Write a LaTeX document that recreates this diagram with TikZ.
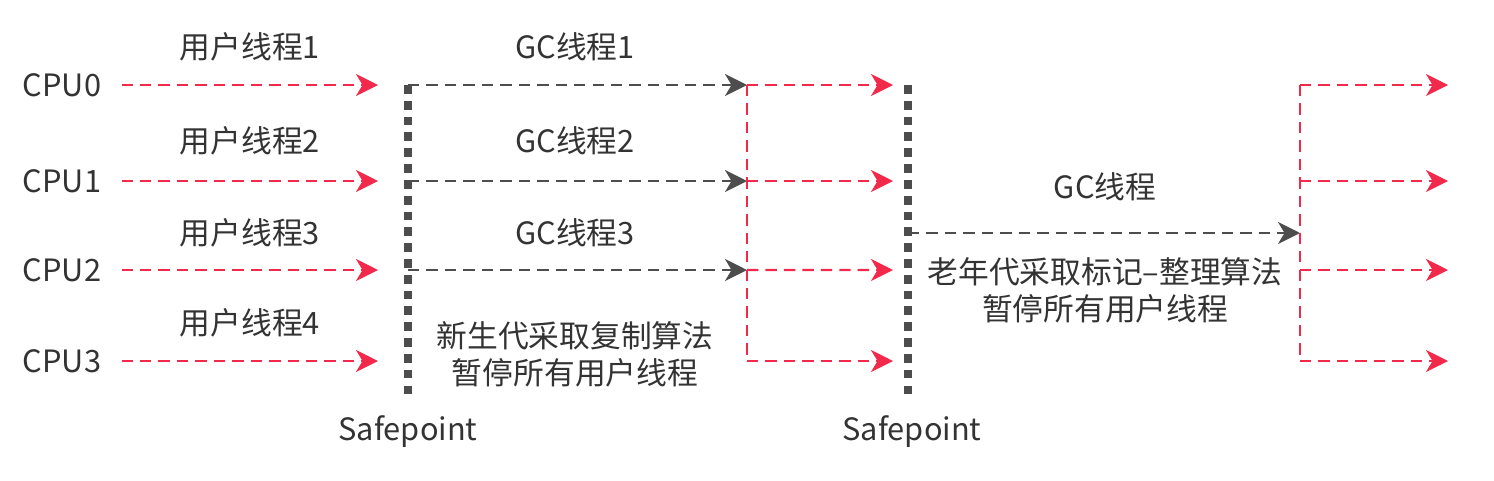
\documentclass[tikz,border=0pt]{standalone}
\usepackage{fontspec}
\setmainfont{Noto Sans CJK SC}
\usepackage{tikz}
\usetikzlibrary{arrows.meta,calc}
\definecolor{lred}{HTML}{F2294A}
\definecolor{lgrey}{HTML}{4D4D4D}
\definecolor{ltext}{HTML}{333333}
\tikzstyle{lbl} = [text=ltext, font=\fontsize{17.5}{21}\selectfont, inner sep=0pt, align=center]
\tikzstyle{redarrow} = [draw=lred, line width=1.2pt, dash pattern=on 6.5pt off 4pt, -{Stealth[length=0.44cm, width=0.44cm, inset=0.13cm]}]
\tikzstyle{redline} = [draw=lred, line width=1.2pt, dash pattern=on 6.5pt off 4pt]
\tikzstyle{greyarrow} = [draw=lgrey, line width=1.2pt, dash pattern=on 6.5pt off 4pt, -{Stealth[length=0.44cm, width=0.44cm, inset=0.13cm]}]
\tikzstyle{safeline} = [draw=lgrey, line width=4pt, dash pattern=on 5pt off 4pt]

\begin{document}
\begin{tikzpicture}
\useasboundingbox (0,0) rectangle (29.88,-9.6);

% CPU rows
\node (cpu0) [lbl] at (1.24,-1.7) {CPU0};
\node (cpu1) [lbl] at (1.24,-3.62) {CPU1};
\node (cpu2) [lbl] at (1.24,-5.4) {CPU2};
\node (cpu3) [lbl] at (1.24,-7.22) {CPU3};
\node (ut1) [lbl] at (5.0,-0.94) {用户线程1};
\node (ut2) [lbl] at (5.0,-2.82) {用户线程2};
\node (ut3) [lbl] at (5.0,-4.66) {用户线程3};
\node (ut4) [lbl] at (5.0,-6.46) {用户线程4};

% first safepoint
\coordinate (sp1top) at (8.16,-1.7);
\coordinate (sp1bot) at (8.16,-7.9);
\coordinate (sp1r1) at (8.16,-3.62);
\coordinate (sp1r2) at (8.16,-5.4);
\node (sp1lbl) [lbl] at (8.16,-8.64) {Safepoint};
\draw [redarrow] ([xshift=0.4cm]cpu0.east) -- ($(sp1top)+(-0.6,0)$);
\draw [redarrow] ([xshift=0.4cm]cpu1.east) -- ($(sp1r1)+(-0.6,0)$);
\draw [redarrow] ([xshift=0.4cm]cpu2.east) -- ($(sp1r2)+(-0.6,0)$);
\draw [redarrow] ([xshift=0.4cm]cpu3.east) -- ($(sp1bot)+(-0.6,0.68)$);

% young gen GC
\coordinate (ya0) at (14.94,-1.7);
\coordinate (ya1) at (14.94,-3.62);
\coordinate (ya2) at (14.94,-5.4);
\coordinate (ya3) at (14.94,-7.22);
\node (gc1) [lbl] at (11.5,-0.94) {GC线程1};
\node (gc2) [lbl] at (11.5,-2.82) {GC线程2};
\node (gc3) [lbl] at (11.5,-4.66) {GC线程3};
\node (young) [lbl] at (11.5,-7.08) {新生代采取复制算法\\暂停所有用户线程};
\draw [greyarrow] (sp1top) -- (ya0);
\draw [greyarrow] (sp1r1) -- (ya1);
\draw [greyarrow] (sp1r2) -- (ya2);
\draw [safeline] (sp1top) -- (sp1bot);

% second safepoint
\coordinate (sp2top) at (18.16,-1.7);
\coordinate (sp2bot) at (18.16,-7.9);
\coordinate (sp2mid) at (18.16,-4.66);
\node (sp2lbl) [lbl] at (18.24,-8.64) {Safepoint};
\draw [redline] (ya0) -- (ya3);
\draw [redarrow] (ya0) -- ($(sp2top)+(-0.3,0)$);
\draw [redarrow] (ya1) -- ($(sp2top)+(-0.3,-1.92)$);
\draw [redarrow] (ya2) -- ($(sp2top)+(-0.3,-3.7)$);
\draw [redarrow] (ya3) -- ($(sp2top)+(-0.3,-5.52)$);

% old gen GC
\coordinate (oa0) at (26.0,-1.7);
\coordinate (oa3) at (26.0,-7.22);
\coordinate (oamid) at (26.0,-4.66);
\node (gc) [lbl] at (22.1,-3.74) {GC线程};
\node (old) [lbl] at (22.1,-5.8) {老年代采取标记–整理算法\\暂停所有用户线程};
\draw [greyarrow] (sp2mid) -- (oamid);
\draw [safeline] (sp2top) -- (sp2bot);
\draw [redline] (oa0) -- (oa3);
\draw [redarrow] (oa0) -- (28.96,-1.7);
\draw [redarrow] (26.0,-3.62) -- (28.96,-3.62);
\draw [redarrow] (26.0,-5.4) -- (28.96,-5.4);
\draw [redarrow] (oa3) -- (28.96,-7.22);

\end{tikzpicture}
\end{document}
